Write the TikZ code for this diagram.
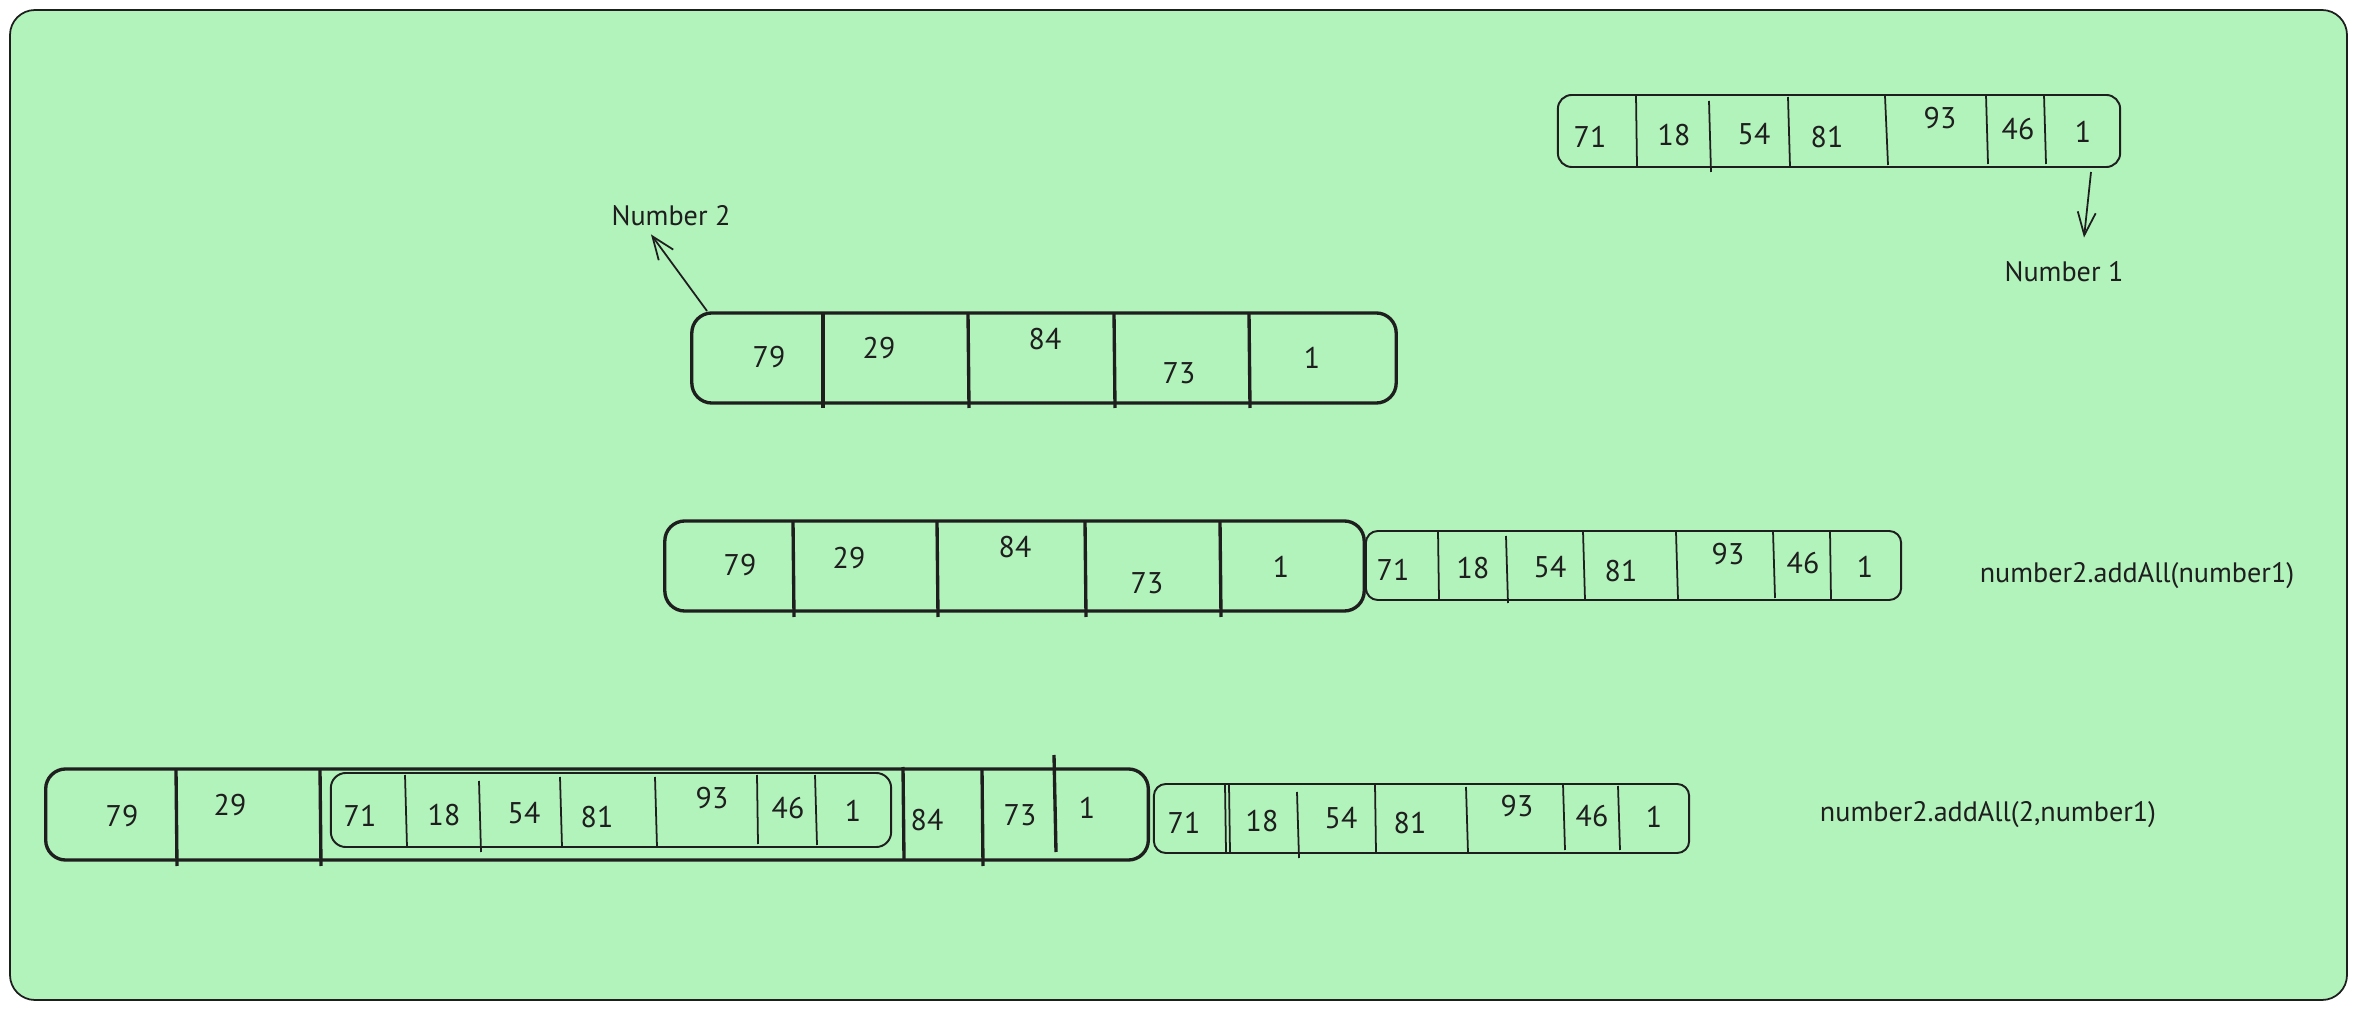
\documentclass[tikz,border=0pt]{standalone}
\usepackage{fontspec}
\setmainfont{PT Sans}
\usetikzlibrary{arrows.meta}
\definecolor{bg}{HTML}{B2F2BB}
\definecolor{ink}{HTML}{1E1E1E}
\begin{document}
\begin{tikzpicture}[x=0.01cm,y=-0.01cm,
  thinbox/.style={draw=ink,line width=0.55pt,rounded corners=0.14cm,inner sep=0pt,outer sep=0pt},
  thickbox/.style={draw=ink,line width=0.95pt,rounded corners=0.2cm,inner sep=0pt,outer sep=0pt},
  thindiv/.style={draw=ink,line width=0.5pt},
  thickdiv/.style={draw=ink,line width=0.95pt},
  num/.style={font=\fontsize{8.5}{10}\selectfont,text=ink,inner sep=0pt},
  lbl/.style={font=\fontsize{8}{10}\selectfont,text=ink,inner sep=1pt},
  arr/.style={draw=ink,line width=0.5pt,-{Straight Barb[length=2.3mm,width=1.8mm]}}]
\path[use as bounding box] (0,0) rectangle (2357,1010);
\draw[fill=bg,draw=ink,line width=0.5pt,rounded corners=0.25cm] (10,10) rectangle (2347,1000);

% ---------- Box A (Number 1) ----------
\node[thinbox,minimum width=5.62cm,minimum height=0.72cm] (A) at (1839,131) {};
\draw[thindiv] (1636,95) -- (1637,167);
\draw[thindiv] (1709,101) -- (1711,172);
\draw[thindiv] (1788,97) -- (1790,167);
\draw[thindiv] (1885,96) -- (1888,165);
\draw[thindiv] (1986,95) -- (1988,164);
\draw[thindiv] (2044,95) -- (2046,164);
\node[num] (a1) at (1590,137) {71};
\node[num] (a2) at (1674,135) {18};
\node[num] (a3) at (1754,134) {54};
\node[num] (a4) at (1827,137) {81};
\node[num] (a5) at (1940,118) {93};
\node[num] (a6) at (2018,129) {46};
\node[num] (a7) at (2083,132) {1};
\node[lbl] (n1) at (2064,272) {Number 1};
\coordinate (a1s) at (2091,172);
\draw[arr] (a1s) -- ([xshift=0.2cm,yshift=0.2cm]n1.north);

% ---------- Box B (Number 2) ----------
\node[thickbox,minimum width=7.04cm,minimum height=0.90cm] (B) at (1044,358) {};
\draw[thickdiv] (823,313) -- (823,408);
\draw[thickdiv] (968,313) -- (969,408);
\draw[thickdiv] (1114,313) -- (1115,408);
\draw[thickdiv] (1249,313) -- (1250,408);
\node[num] (b1) at (769,357) {79};
\node[num] (b2) at (879,348) {29};
\node[num] (b3) at (1045,339) {84};
\node[num] (b4) at (1179,373) {73};
\node[num] (b5) at (1312,358) {1};
\node[lbl] (n2) at (671,216) {Number 2};
\coordinate (a2s) at (707,311);
\draw[arr] (a2s) -- ([xshift=-0.2cm,yshift=-0.04cm]n2.south);

% ---------- Row 3: Box C + Box D ----------
\node[thickbox,minimum width=6.99cm,minimum height=0.90cm] (C) at (1014.5,566) {};
\draw[thickdiv] (793,521) -- (794,617);
\draw[thickdiv] (937,521) -- (938,617);
\draw[thickdiv] (1085,521) -- (1086,617);
\draw[thickdiv] (1220,521) -- (1221,617);
\node[num] (c1) at (740,565) {79};
\node[num] (c2) at (849,558) {29};
\node[num] (c3) at (1015,547) {84};
\node[num] (c4) at (1147,583) {73};
\node[num] (c5) at (1281,567) {1};

\node[thinbox,rounded corners=0.12cm,minimum width=5.35cm,minimum height=0.69cm] (D) at (1633.5,565.5) {};
\draw[thindiv] (1438,531) -- (1439,600);
\draw[thindiv] (1506,536) -- (1508,603);
\draw[thindiv] (1583,531) -- (1585,600);
\draw[thindiv] (1676,532) -- (1678,600);
\draw[thindiv] (1773,531) -- (1775,598);
\draw[thindiv] (1830,531) -- (1831,600);
\node[num] (d1) at (1393,570) {71};
\node[num] (d2) at (1473,568) {18};
\node[num] (d3) at (1550,567) {54};
\node[num] (d4) at (1621,571) {81};
\node[num] (d5) at (1728,554) {93};
\node[num] (d6) at (1803,563) {46};
\node[num] (d7) at (1865,567) {1};
\node[lbl] (l1) at (2137,576) {number2.addAll(number1)};

% ---------- Row 4: Box E with inner Box F, Box G ----------
\node[thickbox,minimum width=11.02cm,minimum height=0.91cm] (E) at (597,814.5) {};
\draw[thickdiv] (176,769) -- (177,866);
\draw[thickdiv] (320,769) -- (321,866);
\draw[thickdiv] (903,767) -- (904,859);
\draw[thickdiv] (982,769) -- (983,866);
\draw[thickdiv] (1054,755) -- (1056,852);
\node[num] (e1) at (122,816) {79};
\node[num] (e2) at (230,805) {29};
\node[num] (e3) at (927,820) {84};
\node[num] (e4) at (1020,815) {73};
\node[num] (e5) at (1087,808) {1};

\node[thinbox,rounded corners=0.15cm,minimum width=5.60cm,minimum height=0.74cm] (F) at (611,810) {};
\draw[thindiv] (405,775) -- (407,847);
\draw[thindiv] (479,781) -- (481,852);
\draw[thindiv] (560,777) -- (562,847);
\draw[thindiv] (655,777) -- (657,847);
\draw[thindiv] (757,775) -- (758,844);
\draw[thindiv] (815,775) -- (817,845);
\node[num] (f1) at (360,816) {71};
\node[num] (f2) at (444,815) {18};
\node[num] (f3) at (524,813) {54};
\node[num] (f4) at (597,817) {81};
\node[num] (f5) at (712,798) {93};
\node[num] (f6) at (788,808) {46};
\node[num] (f7) at (853,811) {1};

\node[thinbox,rounded corners=0.12cm,minimum width=5.35cm,minimum height=0.69cm] (G) at (1421.5,818.5) {};
\draw[thindiv] (1225,785) -- (1226,852);
\draw[thindiv] (1229,785) -- (1230,852);
\draw[thindiv] (1297,792) -- (1299,858);
\draw[thindiv] (1375,784) -- (1376,853);
\draw[thindiv] (1466,787) -- (1468,853);
\draw[thindiv] (1563,784) -- (1565,850);
\draw[thindiv] (1618,786) -- (1620,850);
\node[num] (g1) at (1184,823) {71};
\node[num] (g2) at (1262,821) {18};
\node[num] (g3) at (1341,818) {54};
\node[num] (g4) at (1410,823) {81};
\node[num] (g5) at (1517,806) {93};
\node[num] (g6) at (1592,816) {46};
\node[num] (g7) at (1654,817) {1};
\node[lbl] (l2) at (1988,815) {number2.addAll(2,number1)};
\end{tikzpicture}
\end{document}
